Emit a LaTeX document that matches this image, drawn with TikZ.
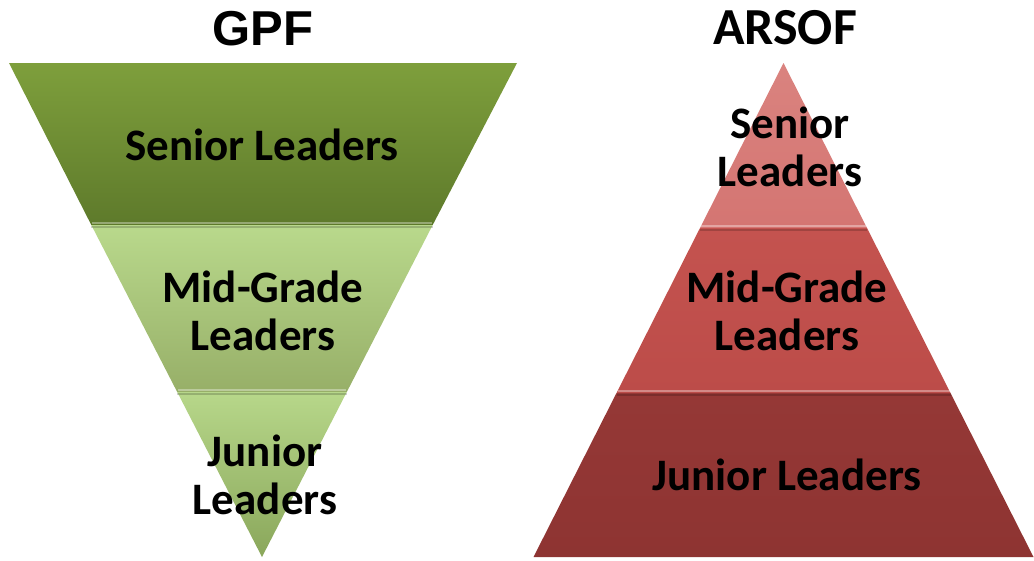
\documentclass[tikz,border=0pt]{standalone}
\usepackage{fontspec}
\setmainfont{Carlito}
\newfontfamily\arialfont{Liberation Sans}
\definecolor{gTopA}{HTML}{7E9F3C}
\definecolor{gTopB}{HTML}{5E7A2B}
\definecolor{gMidA}{HTML}{B9D98C}
\definecolor{gMidB}{HTML}{97AF68}
\definecolor{gBotA}{HTML}{B7D78A}
\definecolor{gBotB}{HTML}{8AA75B}
\definecolor{rTopA}{HTML}{DA837F}
\definecolor{rTopB}{HTML}{D47572}
\definecolor{rMidA}{HTML}{C4534F}
\definecolor{rMidB}{HTML}{BC4C49}
\definecolor{rBotA}{HTML}{953836}
\definecolor{rBotB}{HTML}{8E3432}
\tikzset{
  lbl/.style={font=\bfseries\fontsize{45}{48}\selectfont, align=center, text=black, inner sep=0pt},
  ttl/.style={font=\bfseries\fontsize{50}{52}\selectfont, text=black, inner sep=0pt},
  hl/.style={line width=2pt, white, opacity=0.35},
  sh/.style={line width=2pt, black, opacity=0.18}
}
\begin{document}
\begin{tikzpicture}[x=1pt,y=-1pt]
\useasboundingbox (0,0) rectangle (1034,560);
% ---------- GPF (inverted) ----------
\coordinate (L1) at (9,63);
\coordinate (R1) at (517,63);
\coordinate (L2) at (91.3,225);
\coordinate (R2) at (432.7,225);
\coordinate (L3) at (177.2,392);
\coordinate (R3) at (346.8,392);
\coordinate (AP) at (262,557);
\shade[top color=gTopA, bottom color=gTopB] (L1) -- (R1) -- (R2) -- (L2) -- cycle;
\shade[top color=gMidA, bottom color=gMidB] (L2) -- (R2) -- (R3) -- (L3) -- cycle;
\shade[top color=gBotA, bottom color=gBotB] (L3) -- (R3) -- (AP) -- cycle;
\draw[sh] ([yshift=-2pt]L2) -- ([yshift=-2pt]R2);
\draw[hl] ([xshift=1pt,yshift=2pt]L2) -- ([xshift=-1pt,yshift=2pt]R2);
\draw[sh] ([yshift=-2pt]L3) -- ([yshift=-2pt]R3);
\draw[hl] ([xshift=1pt,yshift=2pt]L3) -- ([xshift=-1pt,yshift=2pt]R3);
\node[ttl, font=\arialfont\bfseries\fontsize{49}{52}\selectfont] (gpf) at (263,29) {GPF};
\node[lbl] (gs) at (262,145) {Senior Leaders};
\node[lbl] (gm) at (263,311) {Mid-Grade\\Leaders};
\node[lbl] (gj) at (265,475) {Junior\\Leaders};
% ---------- ARSOF (pyramid) ----------
\coordinate (A) at (783.5,63);
\coordinate (P2) at (700,228);
\coordinate (Q2) at (867,228);
\coordinate (P3) at (616.5,393);
\coordinate (Q3) at (950.5,393);
\coordinate (P4) at (533.5,557);
\coordinate (Q4) at (1033.5,557);
\shade[top color=rTopA, bottom color=rTopB] (A) -- (Q2) -- (P2) -- cycle;
\shade[top color=rMidA, bottom color=rMidB] (P2) -- (Q2) -- (Q3) -- (P3) -- cycle;
\shade[top color=rBotA, bottom color=rBotB] (P3) -- (Q3) -- (Q4) -- (P4) -- cycle;
\draw[sh] ([yshift=-2pt]P2) -- ([yshift=-2pt]Q2);
\draw[hl] ([xshift=1pt,yshift=2pt]P2) -- ([xshift=-1pt,yshift=2pt]Q2);
\draw[sh] ([yshift=-2pt]P3) -- ([yshift=-2pt]Q3);
\draw[hl] ([xshift=1pt,yshift=2pt]P3) -- ([xshift=-1pt,yshift=2pt]Q3);
\node[ttl, font=\bfseries\fontsize{52}{54}\selectfont] (ars) at (785,28) {ARSOF};
\node[lbl] (rs) at (790,147) {Senior\\Leaders};
\node[lbl] (rm) at (787,311) {Mid-Grade\\Leaders};
\node[lbl] (rj) at (787,475) {Junior Leaders};
\end{tikzpicture}
\end{document}
